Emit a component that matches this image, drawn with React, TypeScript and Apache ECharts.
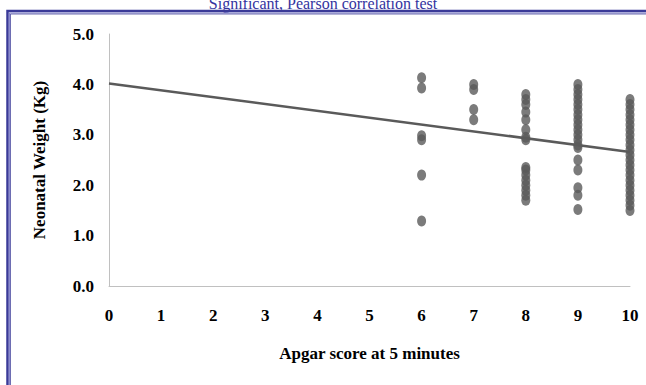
import React, { useEffect, useRef } from "react";
import * as echarts from "echarts";

const titleText = "Significant, Pearson correlation test";
const xAxisName = "Apgar score at 5 minutes";
const yAxisName = "Neonatal Weight (Kg)";

const apgar6 = [4.13, 3.93, 2.98, 2.9, 2.2, 1.29];
const apgar7 = [4.0, 3.9, 3.5, 3.3];
const apgar8 = [3.8, 3.7, 3.6, 3.45, 3.3, 3.1, 2.95, 2.9, 2.35, 2.3, 2.2, 2.1, 2.0, 1.9, 1.8, 1.7];
const apgar9 = [4.0, 3.9, 3.8, 3.7, 3.6, 3.5, 3.4, 3.3, 3.2, 3.1, 3.0, 2.9, 2.8, 2.75, 2.5, 2.3, 1.95, 1.8, 1.52];
const apgar10 = [3.7, 3.6, 3.5, 3.4, 3.3, 3.2, 3.1, 3.0, 2.9, 2.8, 2.7, 2.6, 2.5, 2.4, 2.3, 2.2, 2.1, 2.0, 1.9, 1.8, 1.7, 1.6, 1.5];
const trendStart = [0, 4.02];
const trendEnd = [10, 2.66];

const groups: [number, number[]][] = [
  [6, apgar6],
  [7, apgar7],
  [8, apgar8],
  [9, apgar9],
  [10, apgar10],
];

export default function App() {
  const ref = useRef<HTMLDivElement>(null);
  useEffect(() => {
    if (!ref.current) return;
    const chart = echarts.init(ref.current, null, { renderer: "svg" });
    const points: number[][] = [];
    groups.forEach(([x, ys]) => ys.forEach((y) => points.push([x, y])));
    const font = "'Liberation Serif', 'Times New Roman', serif";
    chart.setOption({
      animation: false,
      backgroundColor: "#ffffff",
      grid: { left: 109, right: 16, top: 34, bottom: 99 },
      xAxis: {
        type: "value",
        min: 0,
        max: 10,
        interval: 1,
        name: xAxisName,
        nameLocation: "middle",
        nameGap: 59,
        nameTextStyle: { fontFamily: font, fontWeight: "bold", fontSize: 17, color: "#000" },
        axisLine: { show: true, lineStyle: { color: "#c0c0c0", width: 1 } },
        axisTick: { show: false },
        splitLine: { show: false },
        axisLabel: { fontFamily: font, fontWeight: "bold", fontSize: 17, color: "#000", margin: 21 },
      },
      yAxis: {
        type: "value",
        min: 0,
        max: 5,
        interval: 1,
        name: yAxisName,
        nameLocation: "middle",
        nameGap: 61,
        nameRotate: 90,
        nameTextStyle: { fontFamily: font, fontWeight: "bold", fontSize: 17, color: "#000" },
        axisLine: { show: true, lineStyle: { color: "#c0c0c0", width: 1 } },
        axisTick: { show: false },
        splitLine: { show: false },
        axisLabel: {
          fontFamily: font,
          fontWeight: "bold",
          fontSize: 17,
          color: "#000",
          margin: 15,
          formatter: (v: number) => v.toFixed(1),
        },
      },
      series: [
        {
          type: "scatter",
          data: points,
          symbol: "circle",
          symbolSize: [9, 11],
          itemStyle: { color: "#5a5a5a" },
          z: 3,
        },
        {
          type: "line",
          data: [trendStart, trendEnd],
          symbol: "none",
          lineStyle: { color: "#5a5a5a", width: 2.5 },
          z: 4,
        },
      ],
      graphic: [
        {
          type: "text",
          left: "center",
          top: -5,
          style: {
            text: titleText,
            fontFamily: font,
            fontSize: 16,
            fill: "#3333a0",
          },
        },
        {
          type: "rect",
          shape: { x: 7.5, y: 11, width: 700, height: 500 },
          style: { fill: "none", stroke: "#3a3a98", lineWidth: 2.5 },
        },
        {
          type: "rect",
          shape: { x: 9.5, y: 13, width: 700, height: 500 },
          style: { fill: "none", stroke: "#8a8ad0", lineWidth: 1.2 },
        },
        {
          type: "rect",
          shape: { x: 10.5, y: 14, width: 700, height: 500 },
          style: { fill: "none", stroke: "#4a4aa0", lineWidth: 0.8 },
        },
      ],
    });
    return () => chart.dispose();
  }, []);
  return (
    <div
      ref={ref}
      style={{ position: "fixed", left: 0, top: 0, width: 646, height: 385, background: "#fff" }}
    />
  );
}
